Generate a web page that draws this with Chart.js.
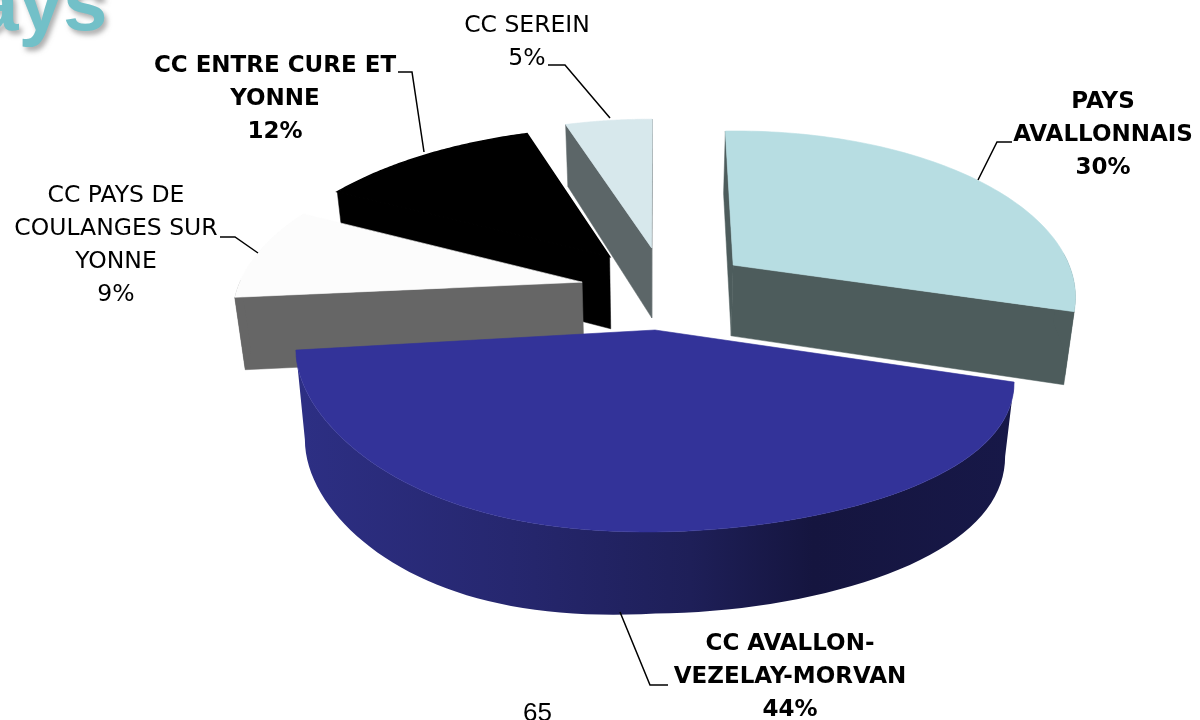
<!DOCTYPE html>
<html>
<head>
<meta charset="utf-8">
<style>
  html, body { margin: 0; padding: 0; background: #fff; }
  #wrap { width: 1200px; height: 720px; }
</style>
<script src="https://cdn.jsdelivr.net/npm/chart.js@4/dist/chart.umd.min.js"></script>
</head>
<body>
<div id="wrap"><canvas id="pie"></canvas></div>
<script>
const categories = ['PAYS AVALLONNAIS', 'CC AVALLON-VEZELAY-MORVAN', 'CC PAYS DE COULANGES SUR YONNE', 'CC ENTRE CURE ET YONNE', 'CC SEREIN'];
const shares = [30, 44, 9, 12, 5];
const labelLines = [
  ['PAYS', 'AVALLONNAIS'],
  ['CC AVALLON-', 'VEZELAY-MORVAN'],
  ['CC PAYS DE', 'COULANGES SUR', 'YONNE'],
  ['CC ENTRE CURE ET', 'YONNE'],
  ['CC SEREIN']
];
const labelBold = [true, true, false, true, false];
const topColors = ['#b7dde2', '#333399', '#fcfcfc', '#000000', '#d7e8ec'];
const sideColors = ['#4d5c5c', '#1c1d55', '#666666', '#000000', '#5c6668'];

// label block: centre x, first line y, then the leader line
const labelBoxes = [
  { x: 1103, y: 102, leader: [[1012, 142], [997, 142], [978, 180]] },
  { x: 790, y: 644, leader: [[668, 685], [650, 685], [620, 612]] },
  { x: 116, y: 196, leader: [[220, 237], [235, 237], [258, 253]] },
  { x: 275, y: 66, leader: [[398, 72], [412, 72], [424, 152]] },
  { x: 527, y: 26, leader: [[548, 65], [565, 65], [610, 118]] }
];

// how each slice sits on the tilted plane: explode vector, radii, small shear.
// the front slice is seen so close that its sweep opens up (spread, turn)
const sliceViews = [
  { ox: 0.23, oy: -0.153, rx: 0.99, ry: 1.06, sx: -0.0175, sy: -0.04 },
  { ox: 0, oy: 0.2547, rx: 1.026, ry: 1.026, sx: 0, sxBelly: -0.119, sy: 0.0969, rimOy: 0.2236, flat: true, spread: 1.136, turn: -0.1257, depth: 70, leftDrop: 16, shaded: true },
  { ox: -0.21, oy: -0.043, rx: 0.985, ry: 1.03, sx: 0.065, sy: -0.03 },
  { ox: -0.135, oy: -0.21, rx: 1.02, ry: 1.04, sx: 0, sy: -0.03, depth: 74 },
  { ox: -0.01, oy: -0.268, rx: 1, ry: 1.06, sx: 0, sy: 0 }
];
const paintOrder = [4, 3, 2, 0, 1];

const view = { cx: 655, cy: 289, sx: 350, sy: 161, persp: 0.195, depth: 72 };

function project(X, Y, flat) {
  const w = flat ? 1 : 1 - view.persp * Y;
  return { x: view.cx + view.sx * X / w, y: view.cy + view.sy * Y / w, X: X, Y: Y };
}

function lower(p, depth, leftDrop) {
  return {
    x: view.cx + (p.x - view.cx) * 0.975,
    y: p.y + depth * (1 + 0.11 * p.Y) + leftDrop * Math.max(0, -p.X)
  };
}

function fillPath(ctx, pts, color, edge) {
  ctx.beginPath();
  pts.forEach((p, n) => n ? ctx.lineTo(p.x, p.y) : ctx.moveTo(p.x, p.y));
  ctx.closePath();
  ctx.fillStyle = color;
  ctx.fill();
  if (edge) {
    ctx.strokeStyle = color;
    ctx.lineWidth = edge;
    ctx.stroke();
  }
}

// a cut face shows only if the top of the slice lies above its edge
function cutShows(a, b, other) {
  const ex = b.x - a.x;
  const ey = b.y - a.y;
  return (ex * (other.y - a.y) - ey * (other.x - a.x)) * ex < 0;
}

function drawSlice(ctx, arc, i) {
  const v = sliceViews[i];
  const depth = v.depth || view.depth;
  const steps = 80;
  const rim = [];
  const front = [];
  const sweep = arc.endAngle - arc.startAngle;
  const mid = arc.startAngle + sweep / 2;
  for (let s = 0; s <= steps; s++) {
    const a = arc.startAngle + sweep * s / steps;
    const t = mid + (v.turn || 0) + (a - mid) * (v.spread || 1);
    const dx = v.rx * Math.cos(t);
    const dy = v.ry * Math.sin(t);
    const belly = (v.sxBelly || 0) * dy * Math.sin(t) * Math.sin(t);
    const p = project(v.ox + dx + v.sx * dy + belly, v.oy + (v.rimOy || 0) + dy + v.sy * dx, v.flat);
    rim.push(p);
    if (Math.sin(t) > -0.05) front.push(p);
  }
  const apex = project(v.ox, v.oy, v.flat);
  const first = rim[0];
  const last = rim[rim.length - 1];
  const low = p => lower(p, depth, v.leftDrop || 0);

  if (cutShows(apex, first, last)) fillPath(ctx, [apex, first, low(first), low(apex)], sideColors[i], 0.5);
  if (cutShows(apex, last, first)) fillPath(ctx, [apex, last, low(last), low(apex)], sideColors[i], 0.5);

  let wall = sideColors[i];
  if (v.shaded) {
    wall = ctx.createLinearGradient(296, 0, 1014, 0);
    wall.addColorStop(0, '#2d2f84');
    wall.addColorStop(0.3, '#26276f');
    wall.addColorStop(0.55, '#1e1f58');
    wall.addColorStop(0.72, '#15153f');
    wall.addColorStop(1, '#171848');
  }
  if (front.length > 1) {
    fillPath(ctx, [...front, ...front.map(low).reverse()], wall, 0);
  }

  fillPath(ctx, [apex, ...rim], topColors[i], topColors[i] === '#000000' ? 1.5 : 0.6);
}

const pie3d = {
  id: 'pie3d',
  beforeDatasetsDraw(chart) {
    const ctx = chart.ctx;
    const arcs = chart.getDatasetMeta(0).data;
    ctx.save();
    paintOrder.forEach(i => drawSlice(ctx, arcs[i], i));
    ctx.restore();
    return false;
  },
  afterDraw(chart) {
    const ctx = chart.ctx;
    const total = shares.reduce((a, b) => a + b, 0);
    ctx.save();

    // leftover slide title, cut by the top edge
    ctx.font = 'bold 80px "Liberation Sans"';
    ctx.textAlign = 'left';
    ctx.textBaseline = 'alphabetic';
    ctx.shadowColor = 'rgba(110,110,110,0.55)';
    ctx.shadowOffsetX = 3;
    ctx.shadowOffsetY = 4;
    ctx.shadowBlur = 5;
    ctx.fillStyle = '#72c0c8';
    ctx.fillText('ays', -26, 30);
    ctx.shadowColor = 'transparent';

    ctx.fillStyle = '#000';
    ctx.font = '26px "Liberation Sans"';
    ctx.fillText('65', 523, 721);

    ctx.textAlign = 'center';
    ctx.textBaseline = 'middle';
    categories.forEach((name, i) => {
      const box = labelBoxes[i];
      const lines = [...labelLines[i], Math.round(shares[i] / total * 100) + '%'];
      ctx.font = (labelBold[i] ? 'bold 23px' : '23.5px') + ' "DejaVu Sans"';
      lines.forEach((t, n) => ctx.fillText(t, box.x, box.y + n * 33));
      ctx.beginPath();
      box.leader.forEach((p, n) => n ? ctx.lineTo(p[0], p[1]) : ctx.moveTo(p[0], p[1]));
      ctx.lineWidth = 1.5;
      ctx.strokeStyle = '#000';
      ctx.stroke();
    });
    ctx.restore();
  }
};

new Chart(document.getElementById('pie'), {
  type: 'pie',
  data: {
    labels: categories,
    datasets: [{ data: shares, backgroundColor: topColors, borderWidth: 0 }]
  },
  options: {
    responsive: true,
    maintainAspectRatio: false,
    animation: false,
    plugins: { legend: { display: false }, title: { display: false }, tooltip: { enabled: false } }
  },
  plugins: [pie3d]
});
</script>
</body>
</html>
